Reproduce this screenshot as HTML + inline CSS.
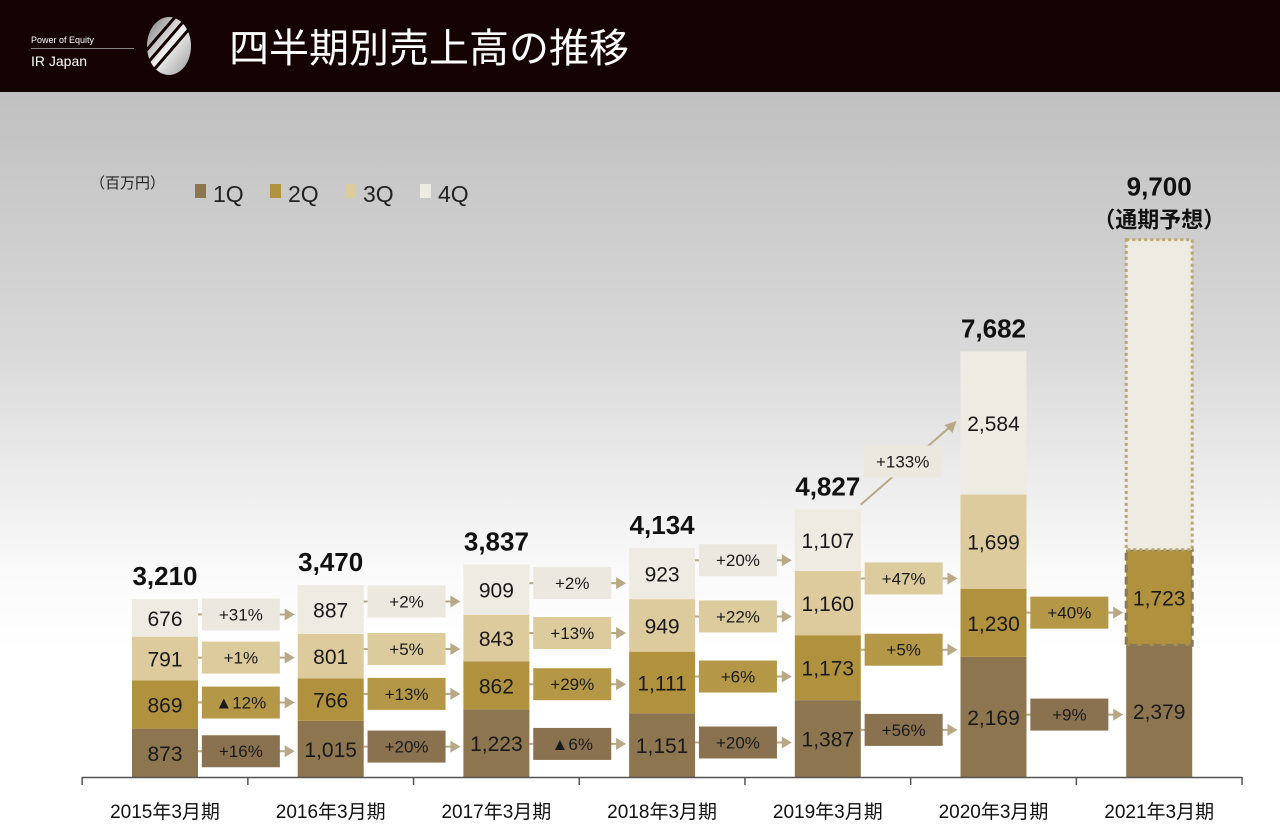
<!DOCTYPE html>
<html><head><meta charset="utf-8">
<style>
body{margin:0;width:1280px;height:833px;overflow:hidden;font-family:"Liberation Sans","Noto Sans CJK JP",sans-serif;}
#hdr{position:absolute;left:0;top:0;width:1280px;height:92px;background:#150303;}
#bg{position:absolute;left:0;top:92px;width:1280px;height:741px;background:linear-gradient(#c0c0c0 0px,#d8d8d8 250px,#fafafa 480px,#fff 560px);}
</style></head><body>
<div id="hdr">
  <div style="position:absolute;left:31px;top:35px;color:#fff;font-size:9px;">Power of Equity</div>
  <div style="position:absolute;left:31px;top:48px;width:103px;height:1px;background:#888;"></div>
  <div style="position:absolute;left:31px;top:53px;color:#fff;font-size:14px;">IR Japan</div>
  <svg style="position:absolute;left:136px;top:16px" width="64" height="62">
    <defs><linearGradient id="lg" x1="0" y1="0" x2="1" y2="1"><stop offset="0" stop-color="#777"/><stop offset=".5" stop-color="#f0f0f0"/><stop offset="1" stop-color="#999"/></linearGradient></defs>
    <ellipse cx="33" cy="30" rx="22" ry="29" fill="url(#lg)"/>
    <g stroke="#150303" stroke-width="3"><line x1="2" y1="44" x2="40" y2="0"/><line x1="9" y1="50" x2="47" y2="6"/><line x1="16" y1="56" x2="54" y2="12"/></g>
  </svg>
  <div style="position:absolute;left:229px;top:20px;color:#fff;font-size:40px;font-family:'Noto Sans CJK JP',sans-serif;line-height:50px;">四半期別売上高の推移</div>
</div>
<div id="bg"></div>
<svg id="chart" width="1280" height="833" style="position:absolute;left:0;top:0">
</svg>
<script>
const categories=["2015年3月期","2016年3月期","2017年3月期","2018年3月期","2019年3月期","2020年3月期","2021年3月期"];
const q1=[873,1015,1223,1151,1387,2169,2379];
const q2=[869,766,862,1111,1173,1230,1723];
const q3=[791,801,843,949,1160,1699,null];
const q4=[676,887,909,923,1107,2584,null];
const totals=["3,210","3,470","3,837","4,134","4,827","7,682","9,700"];
const forecastTotal=9700;
const growth1=["+16%","+20%","▲6%","+20%","+56%","+9%"];
const growth2=["▲12%","+13%","+29%","+6%","+5%","+40%"];
const growth3=["+1%","+5%","+13%","+22%","+47%",null];
const growth4=["+31%","+2%","+2%","+20%","+133%",null];

const svg=document.getElementById('chart');
const NS='http://www.w3.org/2000/svg';
const Y0=777, SC=0.0554, X0=132, STEP=165.7, BW=66;
const xs=i=>X0+i*STEP;
const ys=v=>Y0-v*SC;
const colors=["#8d7550","#b0913d","#ddcb9d","#eeebe2"];
const boxColors=["#8a7250","#b59847","#dccb9c","#ebe8df"];
function mk(t,a,p){const e=document.createElementNS(NS,t);for(const k in a)e.setAttribute(k,a[k]);(p||svg).appendChild(e);return e;}
function fmt(v){return v.toLocaleString('en-US');}

let t=mk('text',{x:90,y:188,'font-size':15,fill:'#222'});t.textContent='（百万円）';

const legN=["1Q","2Q","3Q","4Q"],legX=[195,270,345,420];
legN.forEach((n,k)=>{
  const g=mk('g',{});
  
  
  mk('rect',{x:legX[k],y:184,width:11,height:14,fill:colors[k]},g);
  const tt=mk('text',{x:legX[k]+18,y:202,'font-size':23,fill:'#222'},g);tt.textContent=n;
});

const series=[q1,q2,q3,q4];
const growths=[growth1,growth2,growth3,growth4];
const segs=[];
categories.forEach((c,i)=>{
  let acc=0;segs[i]=[];
  const x=xs(i);
  series.forEach((s,k)=>{
    const v=s[i]; if(v==null)return;
    const bot=ys(acc),top=ys(acc+v);acc+=v;segs[i][k]={top,bot};
    const r=mk('rect',{x:x,y:top,width:BW,height:bot-top,fill:colors[k]});
    
    
    if(i==6&&k==1){r.setAttribute('stroke','#8a7a55');r.setAttribute('stroke-width',3);r.setAttribute('stroke-dasharray','8 4');}
    const tx=mk('text',{x:x+BW/2,y:(top+bot)/2+8,'font-size':21,'text-anchor':'middle',fill:'#1a1a1a'});
    tx.textContent=fmt(v);
    
  });
  let topY=ys(acc);
  if(i==6){
    const ft=ys(forecastTotal);
    const r=mk('rect',{x:x,y:ft,width:BW,height:topY-ft,fill:colors[3],stroke:'#b9a76f','stroke-width':3,'stroke-dasharray':'3 3'});
    
    
    topY=ft;
    const p=mk('text',{x:x+BW/2,y:topY-12,'font-size':22,'font-weight':'bold','text-anchor':'middle',fill:'#111'});
    p.textContent='（通期予想）';
    
    topY-=30;
  }
  const tl=mk('text',{x:x+BW/2,y:topY-14,'font-size':26,'font-weight':'bold','text-anchor':'middle',fill:'#111'});
  tl.textContent=totals[i];
  
  const cl=mk('text',{x:x+BW/2,y:818,'font-size':19,'text-anchor':'middle',fill:'#111'});
  cl.textContent=c;
  
});
const ax=mk('line',{x1:82,y1:777.5,x2:1242,y2:777.5,stroke:'#555','stroke-width':1.5});

for(let i=0;i<=7;i++){const tx=X0+BW/2-STEP/2+i*STEP;mk('line',{x1:tx,y1:777,x2:tx,y2:785,stroke:'#555','stroke-width':1.5});}

const AC='#b8a886';
growths.forEach((gArr,k)=>{
  gArr.forEach((g,i)=>{
    if(g==null)return;
    const L=segs[i][k],R=segs[i+1][k];
    const x1=xs(i)+BW,x2=xs(i+1);
    const g2=mk('g',{});
    
    
    let bx,by;
    if(i==4&&k==3){
      const ly=L.top-5,ry=(R.top+R.bot)/2;
      mk('line',{x1:x1,y1:ly,x2:x2-6,y2:ry,stroke:AC,'stroke-width':2},g2);
      mk('polygon',{points:`${x2-4},${ry-2} ${x2-16},${ry+2} ${x2-8},${ry+10}`,fill:AC},g2);
      bx=(x1+x2)/2-8;by=ly-43;
    }else{
      by=((L.top+L.bot)/2*0.6+(R.top+R.bot)/2*0.4);
      mk('line',{x1:x1,y1:by,x2:x2-10,y2:by,stroke:AC,'stroke-width':2},g2);
      mk('polygon',{points:`${x2-3},${by} ${x2-13},${by-6} ${x2-13},${by+6}`,fill:AC},g2);
      bx=(x1+x2)/2-7;
    }
    const w=78;
    mk('rect',{x:bx-w/2,y:by-16,width:w,height:32,fill:boxColors[k]},g2);
    const tt=mk('text',{x:bx,y:by+6,'font-size':17,'text-anchor':'middle',fill:'#1a1a1a'},g2);
    tt.textContent=g;
  });
});
</script>
</body></html>
